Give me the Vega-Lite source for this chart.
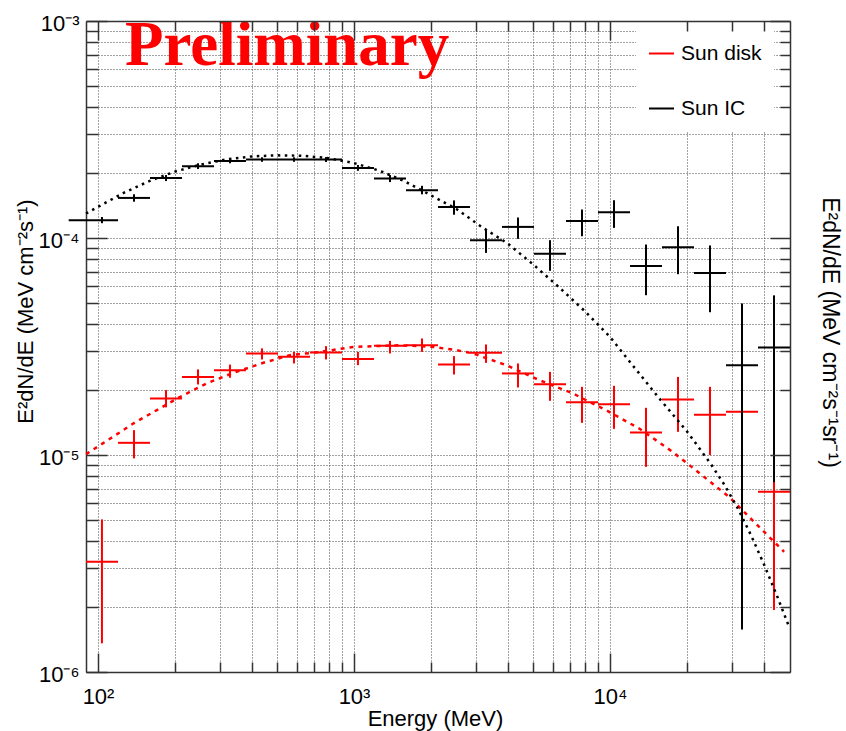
{
  "$schema": "https://vega.github.io/schema/vega-lite/v6.json",
  "width": 704,
  "height": 651,
  "autosize": {"type": "none"},
  "padding": {"left": 86, "top": 21, "right": 56, "bottom": 59},
  "background": "white",
  "config": {"view": {"stroke": null}, "font": "Liberation Sans"},
  "title": {"text": "Preliminary", "anchor": "start", "frame": "group", "orient": "none", "font": "Liberation Serif", "fontSize": 63, "fontWeight": "bold", "color": "#ff0000", "baseline": "alphabetic", "align": "left", "dx": 39, "dy": 44, "offset": 0},
  "datasets": {
    "pts": [
      {"series": "Sun disk", "E": 103.6, "Elo": 89.75, "Ehi": 119.7, "F": 3.22e-6, "Flo": 1.356e-6, "Fhi": 5.05e-6},
      {"series": "Sun disk", "E": 138.2, "Elo": 119.7, "Ehi": 159.6, "F": 1.138e-5, "Flo": 9.65e-6, "Fhi": 1.302e-5},
      {"series": "Sun disk", "E": 184.3, "Elo": 159.6, "Ehi": 212.8, "F": 1.822e-5, "Flo": 1.657e-5, "Fhi": 1.99e-5},
      {"series": "Sun disk", "E": 245.8, "Elo": 212.8, "Ehi": 283.8, "F": 2.29e-5, "Flo": 2.114e-5, "Fhi": 2.48e-5},
      {"series": "Sun disk", "E": 327.7, "Elo": 283.8, "Ehi": 378.4, "F": 2.461e-5, "Flo": 2.27e-5, "Fhi": 2.61e-5},
      {"series": "Sun disk", "E": 437.0, "Elo": 378.4, "Ehi": 504.7, "F": 2.938e-5, "Flo": 2.756e-5, "Fhi": 3.1e-5},
      {"series": "Sun disk", "E": 582.8, "Elo": 504.7, "Ehi": 673.0, "F": 2.834e-5, "Flo": 2.642e-5, "Fhi": 2.987e-5},
      {"series": "Sun disk", "E": 777.2, "Elo": 673.0, "Ehi": 897.5, "F": 2.97e-5, "Flo": 2.756e-5, "Fhi": 3.175e-5},
      {"series": "Sun disk", "E": 1036, "Elo": 897.5, "Ehi": 1196.8, "F": 2.773e-5, "Flo": 2.595e-5, "Fhi": 2.987e-5},
      {"series": "Sun disk", "E": 1382, "Elo": 1196.8, "Ehi": 1596, "F": 3.185e-5, "Flo": 2.938e-5, "Fhi": 3.357e-5},
      {"series": "Sun disk", "E": 1843, "Elo": 1596, "Ehi": 2128, "F": 3.208e-5, "Flo": 2.987e-5, "Fhi": 3.444e-5},
      {"series": "Sun disk", "E": 2458, "Elo": 2128, "Ehi": 2838, "F": 2.614e-5, "Flo": 2.35e-5, "Fhi": 2.855e-5},
      {"series": "Sun disk", "E": 3277, "Elo": 2838, "Ehi": 3785, "F": 2.957e-5, "Flo": 2.659e-5, "Fhi": 3.232e-5},
      {"series": "Sun disk", "E": 4370, "Elo": 3785, "Ehi": 5047, "F": 2.376e-5, "Flo": 2.048e-5, "Fhi": 2.642e-5},
      {"series": "Sun disk", "E": 5828, "Elo": 5047, "Ehi": 6730, "F": 2.121e-5, "Flo": 1.777e-5, "Fhi": 2.416e-5},
      {"series": "Sun disk", "E": 7772, "Elo": 6730, "Ehi": 8975, "F": 1.752e-5, "Flo": 1.407e-5, "Fhi": 2.061e-5},
      {"series": "Sun disk", "E": 10364, "Elo": 8975, "Ehi": 11968, "F": 1.715e-5, "Flo": 1.32e-5, "Fhi": 2.084e-5},
      {"series": "Sun disk", "E": 13821, "Elo": 11968, "Ehi": 15960, "F": 1.271e-5, "Flo": 8.82e-6, "Fhi": 1.65e-5},
      {"series": "Sun disk", "E": 18431, "Elo": 15960, "Ehi": 21283, "F": 1.803e-5, "Flo": 1.279e-5, "Fhi": 2.29e-5},
      {"series": "Sun disk", "E": 24579, "Elo": 21283, "Ehi": 28382, "F": 1.531e-5, "Flo": 9.99e-6, "Fhi": 2.061e-5},
      {"series": "Sun disk", "E": 32777, "Elo": 28382, "Ehi": 37848, "F": 1.581e-5, "Flo": 8.0e-6, "Fhi": 2.36e-5},
      {"series": "Sun disk", "E": 43710, "Elo": 37848, "Ehi": 50471, "F": 6.77e-6, "Flo": 1.932e-6, "Fhi": 1.161e-5},
      {"series": "Sun IC", "E": 103.6, "Elo": 76.8, "Ehi": 119.7, "F": 1.208e-4, "Flo": 1.17e-4, "Fhi": 1.25e-4},
      {"series": "Sun IC", "E": 138.2, "Elo": 119.7, "Ehi": 159.6, "F": 1.53e-4, "Flo": 1.47e-4, "Fhi": 1.59e-4},
      {"series": "Sun IC", "E": 184.3, "Elo": 159.6, "Ehi": 212.8, "F": 1.891e-4, "Flo": 1.83e-4, "Fhi": 1.95e-4},
      {"series": "Sun IC", "E": 245.8, "Elo": 212.8, "Ehi": 283.8, "F": 2.141e-4, "Flo": 2.08e-4, "Fhi": 2.21e-4},
      {"series": "Sun IC", "E": 327.7, "Elo": 283.8, "Ehi": 378.4, "F": 2.265e-4, "Flo": 2.21e-4, "Fhi": 2.32e-4},
      {"series": "Sun IC", "E": 437.0, "Elo": 378.4, "Ehi": 504.7, "F": 2.3e-4, "Flo": 2.245e-4, "Fhi": 2.355e-4},
      {"series": "Sun IC", "E": 582.8, "Elo": 504.7, "Ehi": 673.0, "F": 2.3e-4, "Flo": 2.245e-4, "Fhi": 2.355e-4},
      {"series": "Sun IC", "E": 777.2, "Elo": 673.0, "Ehi": 897.5, "F": 2.3e-4, "Flo": 2.24e-4, "Fhi": 2.36e-4},
      {"series": "Sun IC", "E": 1036, "Elo": 897.5, "Ehi": 1196.8, "F": 2.103e-4, "Flo": 2.04e-4, "Fhi": 2.17e-4},
      {"series": "Sun IC", "E": 1382, "Elo": 1196.8, "Ehi": 1596, "F": 1.879e-4, "Flo": 1.81e-4, "Fhi": 1.95e-4},
      {"series": "Sun IC", "E": 1843, "Elo": 1596, "Ehi": 2128, "F": 1.661e-4, "Flo": 1.59e-4, "Fhi": 1.74e-4},
      {"series": "Sun IC", "E": 2458, "Elo": 2128, "Ehi": 2838, "F": 1.391e-4, "Flo": 1.28e-4, "Fhi": 1.49e-4},
      {"series": "Sun IC", "E": 3277, "Elo": 2838, "Ehi": 3785, "F": 9.77e-5, "Flo": 8.54e-5, "Fhi": 1.086e-4},
      {"series": "Sun IC", "E": 4370, "Elo": 3785, "Ehi": 5047, "F": 1.125e-4, "Flo": 9.91e-5, "Fhi": 1.243e-4},
      {"series": "Sun IC", "E": 5828, "Elo": 5047, "Ehi": 6730, "F": 8.45e-5, "Flo": 7.06e-5, "Fhi": 9.77e-5},
      {"series": "Sun IC", "E": 7772, "Elo": 6730, "Ehi": 8975, "F": 1.199e-4, "Flo": 1.019e-4, "Fhi": 1.353e-4},
      {"series": "Sun IC", "E": 10364, "Elo": 8975, "Ehi": 11968, "F": 1.315e-4, "Flo": 1.113e-4, "Fhi": 1.493e-4},
      {"series": "Sun IC", "E": 13821, "Elo": 11968, "Ehi": 15960, "F": 7.42e-5, "Flo": 5.45e-5, "Fhi": 9.33e-5},
      {"series": "Sun IC", "E": 18431, "Elo": 15960, "Ehi": 21283, "F": 9.07e-5, "Flo": 6.81e-5, "Fhi": 1.133e-4},
      {"series": "Sun IC", "E": 24579, "Elo": 21283, "Ehi": 28382, "F": 6.89e-5, "Flo": 4.55e-5, "Fhi": 9.24e-5},
      {"series": "Sun IC", "E": 32777, "Elo": 28382, "Ehi": 37848, "F": 2.59e-5, "Flo": 1.57e-6, "Fhi": 4.99e-5},
      {"series": "Sun IC", "E": 43710, "Elo": 37848, "Ehi": 50471, "F": 3.13e-5, "Flo": 7.5e-6, "Fhi": 5.44e-5}
    ],
    "fit": [
      {"series": "Sun disk", "E": 89.8, "F": 1.009e-5},
      {"series": "Sun disk", "E": 111.7, "F": 1.191e-5},
      {"series": "Sun disk", "E": 137.7, "F": 1.4e-5},
      {"series": "Sun disk", "E": 169.8, "F": 1.611e-5},
      {"series": "Sun disk", "E": 209.4, "F": 1.854e-5},
      {"series": "Sun disk", "E": 266.1, "F": 2.138e-5},
      {"series": "Sun disk", "E": 338.1, "F": 2.393e-5},
      {"series": "Sun disk", "E": 442.6, "F": 2.661e-5},
      {"series": "Sun disk", "E": 562.3, "F": 2.884e-5},
      {"series": "Sun disk", "E": 736.2, "F": 2.985e-5},
      {"series": "Sun disk", "E": 992.1, "F": 3.148e-5},
      {"series": "Sun disk", "E": 1510, "F": 3.206e-5},
      {"series": "Sun disk", "E": 2032, "F": 3.148e-5},
      {"series": "Sun disk", "E": 2512, "F": 3.041e-5},
      {"series": "Sun disk", "E": 2911, "F": 2.938e-5},
      {"series": "Sun disk", "E": 3936, "F": 2.594e-5},
      {"series": "Sun disk", "E": 5297, "F": 2.213e-5},
      {"series": "Sun disk", "E": 7145, "F": 1.923e-5},
      {"series": "Sun disk", "E": 9638, "F": 1.611e-5},
      {"series": "Sun disk", "E": 13002, "F": 1.324e-5},
      {"series": "Sun disk", "E": 17539, "F": 1.035e-5},
      {"series": "Sun disk", "E": 21627, "F": 8.51e-6},
      {"series": "Sun disk", "E": 29174, "F": 6.41e-6},
      {"series": "Sun disk", "E": 39355, "F": 4.51e-6},
      {"series": "Sun disk", "E": 47863, "F": 3.58e-6},
      {"series": "Sun IC", "E": 89.75, "F": 1.297e-4},
      {"series": "Sun IC", "E": 108.4, "F": 1.466e-4},
      {"series": "Sun IC", "E": 125.9, "F": 1.614e-4},
      {"series": "Sun IC", "E": 158.5, "F": 1.828e-4},
      {"series": "Sun IC", "E": 199.5, "F": 2.023e-4},
      {"series": "Sun IC", "E": 251.2, "F": 2.178e-4},
      {"series": "Sun IC", "E": 316.2, "F": 2.301e-4},
      {"series": "Sun IC", "E": 398.1, "F": 2.377e-4},
      {"series": "Sun IC", "E": 501.2, "F": 2.404e-4},
      {"series": "Sun IC", "E": 631.0, "F": 2.393e-4},
      {"series": "Sun IC", "E": 794.3, "F": 2.333e-4},
      {"series": "Sun IC", "E": 1000, "F": 2.213e-4},
      {"series": "Sun IC", "E": 1259, "F": 2.042e-4},
      {"series": "Sun IC", "E": 1585, "F": 1.82e-4},
      {"series": "Sun IC", "E": 1995, "F": 1.574e-4},
      {"series": "Sun IC", "E": 2512, "F": 1.361e-4},
      {"series": "Sun IC", "E": 3162, "F": 1.122e-4},
      {"series": "Sun IC", "E": 3981, "F": 9.44e-5},
      {"series": "Sun IC", "E": 5012, "F": 7.55e-5},
      {"series": "Sun IC", "E": 6310, "F": 5.94e-5},
      {"series": "Sun IC", "E": 7943, "F": 4.62e-5},
      {"series": "Sun IC", "E": 10000, "F": 3.5e-5},
      {"series": "Sun IC", "E": 12589, "F": 2.49e-5},
      {"series": "Sun IC", "E": 15849, "F": 1.778e-5},
      {"series": "Sun IC", "E": 19953, "F": 1.288e-5},
      {"series": "Sun IC", "E": 24774, "F": 9.08e-6},
      {"series": "Sun IC", "E": 28184, "F": 7.19e-6},
      {"series": "Sun IC", "E": 31623, "F": 5.65e-6},
      {"series": "Sun IC", "E": 35481, "F": 4.29e-6},
      {"series": "Sun IC", "E": 39811, "F": 3.16e-6},
      {"series": "Sun IC", "E": 44668, "F": 2.28e-6},
      {"series": "Sun IC", "E": 50119, "F": 1.61e-6}
    ]
  },
  "resolve": {"axis": {"x": "independent", "y": "independent"}},
  "layer": [
    {
      "layer": [
        {
          "data": {"name": "pts"},
          "mark": {"type": "rule", "strokeWidth": 2},
          "encoding": {
            "x": {"field": "Elo", "type": "quantitative", "title": "Energy (MeV)",
              "scale": {"type": "log", "domain": [89.75, 50471], "nice": false, "zero": false},
              "axis": {"orient": "bottom", "values": [100,200,300,400,500,600,700,800,900,1000,2000,3000,4000,5000,6000,7000,8000,9000,10000,20000,30000,40000],
                "grid": true, "gridColor": "#444444", "gridDash": [1, 2], "gridWidth": 1,
                "ticks": false, "domain": true, "domainColor": "#333333", "domainWidth": 1.5,
                "labelExpr": "datum.value == 100 ? '10²' : datum.value == 1000 ? '10³' : datum.value == 10000 ? '10⁴' : ''",
                "labelFont": "Liberation Sans", "labelFontSize": 22, "labelColor": "black", "labelPadding": 31, "labelBaseline": "alphabetic", "labelAlign": "center", "labelOverlap": false, "labelFlush": false,
                "titleFont": "Liberation Sans", "titleFontSize": 22, "titleFontWeight": "normal", "titleColor": "black", "titleBaseline": "alphabetic", "titleY": 53, "titleX": 349, "titleAlign": "center", "zindex": 0}},
            "x2": {"field": "Ehi"},
            "y": {"field": "F", "type": "quantitative", "title": "E²dN/dE (MeV cm⁻²s⁻¹)",
              "scale": {"type": "log", "domain": [0.000001, 0.001], "nice": false, "zero": false},
              "axis": {"orient": "left", "values": [0.000001,0.000002,0.000003,0.000004,0.000005,0.000006,0.000007,0.000008,0.000009,0.00001,0.00002,0.00003,0.00004,0.00005,0.00006,0.00007,0.00008,0.00009,0.0001,0.0002,0.0003,0.0004,0.0005,0.0006,0.0007,0.0008,0.0009,0.001],
                "grid": true, "gridColor": "#444444", "gridDash": [1, 2], "gridWidth": 1,
                "ticks": false, "domain": true, "domainColor": "#333333", "domainWidth": 1.5,
                "labelExpr": "datum.value == 0.001 ? '10⁻³' : datum.value == 0.0001 ? '10⁻⁴' : datum.value == 0.00001 ? '10⁻⁵' : datum.value == 0.000001 ? '10⁻⁶' : ''",
                "labelFont": "Liberation Sans", "labelFontSize": 22, "labelColor": "black", "labelPadding": 7, "labelBaseline": "middle", "labelAlign": "right", "labelOffset": 2, "labelOverlap": false, "labelFlush": false,
                "titleFont": "Liberation Sans", "titleFontSize": 22, "titleFontWeight": "normal", "titleColor": "black", "titleAngle": -90, "titleBaseline": "alphabetic", "titleAlign": "center", "titleX": -54, "titleY": 290, "zindex": 0}},
            "color": {"field": "series", "type": "nominal",
              "scale": {"domain": ["Sun disk", "Sun IC"], "range": ["#ff0000", "#000000"]},
              "legend": {"orient": "none", "legendX": 550, "legendY": 7, "title": null, "fillColor": "white", "strokeColor": null, "padding": 12,
                "symbolType": "stroke", "symbolSize": 625, "symbolStrokeWidth": 2, "labelFont": "Liberation Sans", "labelFontSize": 21, "labelColor": "black",
                "rowPadding": 31, "labelOffset": 6, "zindex": 1, "labelExpr": "datum.label + '\u00a0\u00a0\u00a0'"}}
          }
        },
        {
          "data": {"name": "pts"},
          "mark": {"type": "rule", "strokeWidth": 2},
          "encoding": {
            "x": {"field": "E", "type": "quantitative", "title": "Energy (MeV)", "scale": {"type": "log", "domain": [89.75, 50471], "nice": false, "zero": false}},
            "y": {"field": "Flo", "type": "quantitative", "title": "E²dN/dE (MeV cm⁻²s⁻¹)", "scale": {"type": "log", "domain": [0.000001, 0.001], "nice": false, "zero": false}},
            "y2": {"field": "Fhi"},
            "color": {"field": "series", "type": "nominal", "scale": {"domain": ["Sun disk", "Sun IC"], "range": ["#ff0000", "#000000"]}}
          }
        },
        {
          "data": {"name": "fit"},
          "transform": [{"filter": "datum.series == 'Sun disk'"}],
          "mark": {"type": "line", "color": "#ff0000", "strokeWidth": 2.5, "strokeDash": [4, 5]},
          "encoding": {
            "x": {"field": "E", "type": "quantitative", "title": "Energy (MeV)", "scale": {"type": "log", "domain": [89.75, 50471], "nice": false, "zero": false}},
            "y": {"field": "F", "type": "quantitative", "title": "E²dN/dE (MeV cm⁻²s⁻¹)", "scale": {"type": "log", "domain": [0.000001, 0.001], "nice": false, "zero": false}}
          }
        },
        {
          "data": {"name": "fit"},
          "transform": [{"filter": "datum.series == 'Sun IC'"}],
          "mark": {"type": "line", "color": "#000000", "strokeWidth": 2.5, "strokeDash": [2.5, 4.5]},
          "encoding": {
            "x": {"field": "E", "type": "quantitative", "title": "Energy (MeV)", "scale": {"type": "log", "domain": [89.75, 50471], "nice": false, "zero": false}},
            "y": {"field": "F", "type": "quantitative", "title": "E²dN/dE (MeV cm⁻²s⁻¹)", "scale": {"type": "log", "domain": [0.000001, 0.001], "nice": false, "zero": false}}
          }
        }
      ]
    },
    {
      "data": {"name": "fit"},
      "mark": {"type": "point", "opacity": 0},
      "encoding": {
        "x": {"field": "E", "type": "quantitative", "title": null,
          "scale": {"type": "log", "domain": [89.75, 50471], "nice": false, "zero": false},
          "axis": {"orient": "bottom", "values": [100,200,300,400,500,600,700,800,900,1000,2000,3000,4000,5000,6000,7000,8000,9000,10000,20000,30000,40000],
            "grid": false, "labels": false, "domain": false, "ticks": true, "tickColor": "#333333", "tickWidth": 1.5,
            "tickSize": {"condition": {"test": "datum.value == 100 || datum.value == 1000 || datum.value == 10000", "value": -19}, "value": -10}, "zindex": 1}},
        "y": {"field": "F", "type": "quantitative", "title": null,
          "scale": {"type": "log", "domain": [0.000001, 0.001], "nice": false, "zero": false},
          "axis": {"orient": "left", "values": [0.000001,0.000002,0.000003,0.000004,0.000005,0.000006,0.000007,0.000008,0.000009,0.00001,0.00002,0.00003,0.00004,0.00005,0.00006,0.00007,0.00008,0.00009,0.0001,0.0002,0.0003,0.0004,0.0005,0.0006,0.0007,0.0008,0.0009,0.001],
            "grid": false, "labels": false, "domain": false, "ticks": true, "tickColor": "#333333", "tickWidth": 1.5,
            "tickSize": {"condition": {"test": "datum.value == 0.001 || datum.value == 0.0001 || datum.value == 0.00001 || datum.value == 0.000001", "value": -21}, "value": -12}, "zindex": 1}}
      }
    },
    {
      "data": {"name": "fit"},
      "mark": {"type": "point", "opacity": 0},
      "encoding": {
        "x": {"field": "E", "type": "quantitative", "title": null,
          "scale": {"type": "log", "domain": [89.75, 50471], "nice": false, "zero": false},
          "axis": {"orient": "top", "values": [100,200,300,400,500,600,700,800,900,1000,2000,3000,4000,5000,6000,7000,8000,9000,10000,20000,30000,40000],
            "grid": false, "labels": false, "domain": true, "domainColor": "#333333", "domainWidth": 1.5, "ticks": true, "tickColor": "#333333", "tickWidth": 1.5,
            "tickSize": {"condition": {"test": "datum.value == 100 || datum.value == 1000 || datum.value == 10000", "value": -19}, "value": -10}, "zindex": 2}},
        "y": {"field": "F", "type": "quantitative", "title": "E²dN/dE (MeV cm⁻²s⁻¹sr⁻¹)",
          "scale": {"type": "log", "domain": [0.000001, 0.001], "nice": false, "zero": false},
          "axis": {"orient": "right", "values": [0.000001,0.000002,0.000003,0.000004,0.000005,0.000006,0.000007,0.000008,0.000009,0.00001,0.00002,0.00003,0.00004,0.00005,0.00006,0.00007,0.00008,0.00009,0.0001,0.0002,0.0003,0.0004,0.0005,0.0006,0.0007,0.0008,0.0009,0.001],
            "grid": false, "labels": false, "domain": true, "domainColor": "#333333", "domainWidth": 1.5, "ticks": true, "tickColor": "#333333", "tickWidth": 1.5,
            "tickSize": {"condition": {"test": "datum.value == 0.001 || datum.value == 0.0001 || datum.value == 0.00001 || datum.value == 0.000001", "value": -20}, "value": -10},
            "titleFont": "Liberation Sans", "titleFontSize": 23, "titleFontWeight": "normal", "titleColor": "black", "titleAngle": 90, "titleBaseline": "alphabetic", "titleAlign": "center", "titleX": 32, "titleY": 311, "zindex": 2}}
      }
    }
  ]
}
